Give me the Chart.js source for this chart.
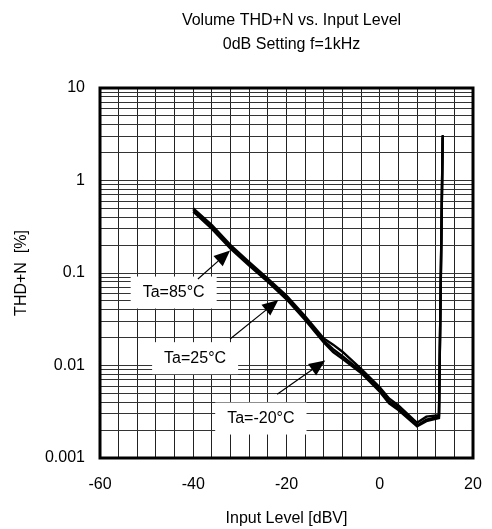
<!DOCTYPE html>
<html>
<head>
<meta charset="utf-8">
<script src="https://cdn.jsdelivr.net/npm/chart.js@4.4.1/dist/chart.umd.min.js"></script>
<style>
  html, body { margin: 0; padding: 0; background: #fff; }
  #wrap { width: 492px; height: 529px; }
</style>
</head>
<body>
<div id="wrap"><canvas id="thdChart" width="492" height="529"></canvas></div>
<script>
// input level [dBV]
const inputLevel = [-40, -36, -32, -28, -24, -20, -16, -12, -10, -8, -4, 0, 2, 4, 8, 10, 12.7, 13.5];

// THD+N [%] per temperature
const ta85 = [0.50, 0.33, 0.200, 0.131, 0.087, 0.057, 0.034, 0.0196, 0.0168, 0.0141, 0.0092, 0.0058, 0.0044, 0.0037, 0.0024, 0.0028, 0.0029, 3.1];
const ta25 = [0.48, 0.31, 0.190, 0.125, 0.083, 0.054, 0.032, 0.0186, 0.0150, 0.0126, 0.0087, 0.0055, 0.0041, 0.0035, 0.00225, 0.0026, 0.0028, 3.0];
const taM20 = [0.46, 0.30, 0.183, 0.120, 0.080, 0.052, 0.031, 0.0178, 0.0140, 0.0118, 0.0083, 0.0052, 0.0039, 0.0033, 0.0022, 0.0025, 0.0027, 2.9];

const xTicks = [];
for (let v = -60; v <= 20; v += 4) xTicks.push(v);
const yDecades = [0.001, 0.01, 0.1, 1];
const yTicks = [];
yDecades.forEach(d => { for (let k = 1; k <= 9; k++) yTicks.push(+(k * d).toPrecision(3)); });
yTicks.push(10);

const titleLines = ["Volume THD+N vs. Input Level", "0dB Setting f=1kHz"];

// callouts: label text, label centre, arrow start and tip (data units)
const calloutText = ["Ta=85°C", "Ta=25°C", "Ta=-20°C"];
const calloutPos = [[-44.2, 0.0615], [-39.6, 0.0120], [-25.5, 0.00267]];
const arrowFrom = [[-39.0, 0.086], [-32.1, 0.0193], [-22.0, 0.0049]];
const arrowTo = [[-32.1, 0.175], [-21.75, 0.051], [-11.7, 0.0113]];

const FONT = "Arial, 'Liberation Sans', sans-serif";

function toPoints(ys) {
    return inputLevel.map((x, i) => ({ x: x, y: ys[i] }));
}

const decorPlugin = {
    id: "decor",
    afterDatasetsDraw(chart) {
        const ctx = chart.ctx;
        const xs = chart.scales.x, ys = chart.scales.y;
        ctx.save();
        ctx.font = "16px " + FONT;
        ctx.textAlign = "center";
        ctx.textBaseline = "middle";
        calloutText.forEach((t, i) => {
            const cx = xs.getPixelForValue(calloutPos[i][0]);
            const cy = ys.getPixelForValue(calloutPos[i][1]);
            const w = ctx.measureText(t).width + 24;
            const h = 32;
            ctx.fillStyle = "#fff";
            ctx.fillRect(cx - w / 2, cy - h / 2, w, h);
            ctx.fillStyle = "#000";
            ctx.fillText(t, cx, cy);

            const x0 = xs.getPixelForValue(arrowFrom[i][0]);
            const y0 = ys.getPixelForValue(arrowFrom[i][1]);
            const x1 = xs.getPixelForValue(arrowTo[i][0]);
            const y1 = ys.getPixelForValue(arrowTo[i][1]);
            const ang = Math.atan2(y1 - y0, x1 - x0);
            const len = 16, half = 7;
            const bx = x1 - len * Math.cos(ang), by = y1 - len * Math.sin(ang);
            ctx.strokeStyle = "#000";
            ctx.lineWidth = 1.2;
            ctx.beginPath();
            ctx.moveTo(x0, y0);
            ctx.lineTo(bx, by);
            ctx.stroke();
            ctx.beginPath();
            ctx.moveTo(x1, y1);
            ctx.lineTo(bx + half * Math.sin(ang), by - half * Math.cos(ang));
            ctx.lineTo(bx - half * Math.sin(ang), by + half * Math.cos(ang));
            ctx.closePath();
            ctx.fill();
        });
        ctx.restore();
    },
    afterDraw(chart) {
        const ctx = chart.ctx;
        const a = chart.chartArea;
        ctx.save();
        ctx.strokeStyle = "#000";
        ctx.lineWidth = 3;
        ctx.strokeRect(a.left, a.top, a.right - a.left, a.bottom - a.top);

        ctx.fillStyle = "#000";
        ctx.font = "16px " + FONT;
        ctx.textAlign = "center";
        ctx.textBaseline = "middle";
        const cx = (a.left + a.right) / 2 + 5;
        titleLines.forEach((t, i) => ctx.fillText(t, cx, 21 + i * 24));
        ctx.restore();
    }
};

const ctx = document.getElementById("thdChart").getContext("2d");

new Chart(ctx, {
    type: "line",
    data: {
        datasets: [
            { label: "Ta=85°C", data: toPoints(ta85) },
            { label: "Ta=25°C", data: toPoints(ta25) },
            { label: "Ta=-20°C", data: toPoints(taM20) }
        ].map(d => Object.assign(d, {
            borderColor: "#000",
            borderWidth: 2.4,
            pointRadius: 0,
            tension: 0,
            fill: false
        }))
    },
    options: {
        responsive: false,
        animation: false,
        layout: { padding: { left: 0, right: 19, top: 88, bottom: 0 } },
        plugins: {
            legend: { display: false },
            tooltip: { enabled: false }
        },
        scales: {
            x: {
                type: "linear",
                min: -60,
                max: 20,
                afterBuildTicks: s => { s.ticks = xTicks.map(v => ({ value: v })); },
                afterFit: s => { s.height = 71; s.paddingLeft = 0; s.paddingRight = 0; },
                grid: { color: "#222", lineWidth: 1, drawTicks: false },
                border: { display: false },
                ticks: {
                    autoSkip: false,
                    maxRotation: 0,
                    padding: 17,
                    color: "#000",
                    font: { family: FONT, size: 16 },
                    callback: v => (v % 20 === 0 ? String(v) : "")
                },
                title: {
                    display: true,
                    text: "Input Level [dBV]",
                    color: "#000",
                    font: { family: FONT, size: 16 },
                    padding: { top: 4, bottom: 1 }
                }
            },
            y: {
                type: "logarithmic",
                min: 0.001,
                max: 10,
                afterBuildTicks: s => { s.ticks = yTicks.map(v => ({ value: v })); },
                afterFit: s => { s.width = 100; s.paddingTop = 0; s.paddingBottom = 0; },
                grid: { color: "#333", lineWidth: 1, drawTicks: false },
                border: { display: false },
                ticks: {
                    autoSkip: false,
                    padding: 15,
                    color: "#000",
                    font: { family: FONT, size: 16 },
                    callback: v => (Number.isInteger(+Math.log10(v).toFixed(6)) ? String(v) : "")
                },
                title: {
                    display: true,
                    text: "THD+N  [%]",
                    color: "#000",
                    font: { family: FONT, size: 16 },
                    padding: { top: 12, bottom: 4 }
                }
            }
        }
    },
    plugins: [decorPlugin]
});
</script>
</body>
</html>
